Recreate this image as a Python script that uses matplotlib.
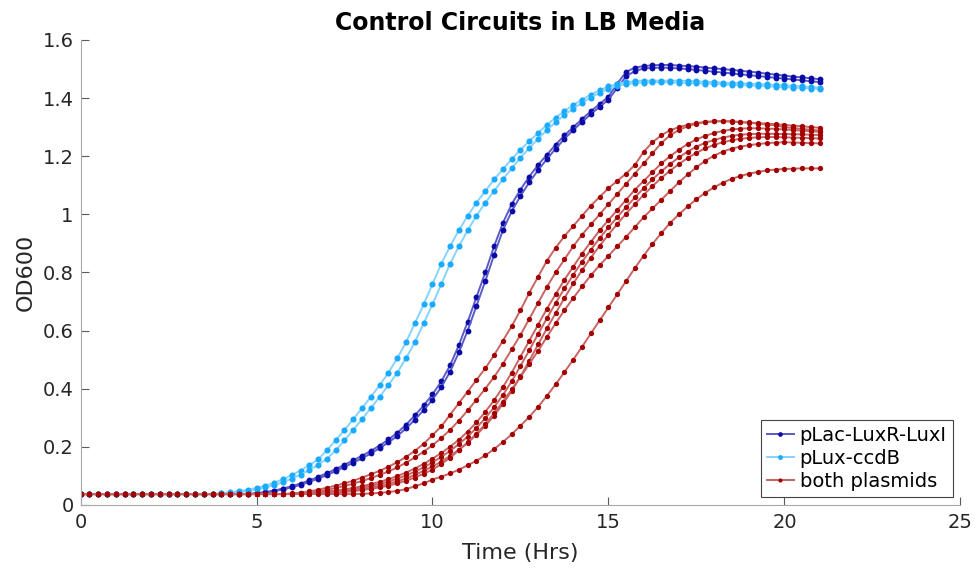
import numpy as np
import matplotlib
matplotlib.use('Agg')
import matplotlib.pyplot as plt
from matplotlib.ticker import FuncFormatter

plt.rcParams['font.family'] = ['DejaVu Sans']

# sampling times (every 15 min, 0..21 h)
hours = np.arange(85) * 0.25

# pLac-LuxR-LuxI replicates (dark blue)
plac_a = [
    0.037, 0.037, 0.037, 0.037,
    0.037, 0.037, 0.037, 0.037,
    0.037, 0.037, 0.037, 0.037,
    0.037, 0.037, 0.037, 0.037,
    0.037, 0.037, 0.037, 0.037,
    0.040, 0.044, 0.049, 0.056,
    0.064, 0.073, 0.084, 0.096,
    0.109, 0.123, 0.138, 0.153,
    0.169, 0.186, 0.204, 0.225,
    0.248, 0.276, 0.308, 0.342,
    0.380, 0.425, 0.480, 0.550,
    0.630, 0.715, 0.800, 0.890,
    0.970, 1.035, 1.085, 1.130,
    1.170, 1.205, 1.240, 1.272,
    1.300, 1.328, 1.355, 1.380,
    1.405, 1.450, 1.490, 1.505,
    1.510, 1.513, 1.514, 1.514,
    1.512, 1.510, 1.508, 1.505,
    1.502, 1.500, 1.497, 1.494,
    1.491, 1.488, 1.484, 1.481,
    1.477, 1.474, 1.471, 1.468,
    1.465]
plac_b = [
    0.037, 0.037, 0.037, 0.037,
    0.037, 0.037, 0.037, 0.037,
    0.037, 0.037, 0.037, 0.037,
    0.037, 0.037, 0.037, 0.037,
    0.037, 0.037, 0.037, 0.037,
    0.039, 0.042, 0.047, 0.053,
    0.060, 0.069, 0.079, 0.090,
    0.102, 0.116, 0.130, 0.145,
    0.160, 0.177, 0.195, 0.215,
    0.237, 0.263, 0.293, 0.326,
    0.362, 0.405, 0.458, 0.525,
    0.600, 0.685, 0.770, 0.860,
    0.945, 1.010, 1.063, 1.110,
    1.152, 1.190, 1.226, 1.260,
    1.290, 1.318, 1.345, 1.370,
    1.395, 1.435, 1.475, 1.493,
    1.502, 1.504, 1.505, 1.504,
    1.502, 1.500, 1.497, 1.494,
    1.491, 1.488, 1.485, 1.482,
    1.479, 1.476, 1.473, 1.470,
    1.467, 1.464, 1.461, 1.458,
    1.455]

# pLux-ccdB replicates (light blue)
plux_a = [
    0.037, 0.037, 0.037, 0.037,
    0.037, 0.037, 0.037, 0.037,
    0.037, 0.037, 0.037, 0.037,
    0.037, 0.037, 0.037, 0.037,
    0.040, 0.043, 0.047, 0.052,
    0.058, 0.066, 0.076, 0.088,
    0.102, 0.118, 0.136, 0.156,
    0.188, 0.222, 0.258, 0.295,
    0.333, 0.372, 0.412, 0.455,
    0.505, 0.560, 0.625, 0.690,
    0.760, 0.830, 0.890, 0.945,
    0.995, 1.040, 1.080, 1.120,
    1.155, 1.190, 1.222, 1.252,
    1.280, 1.308, 1.333, 1.356,
    1.376, 1.395, 1.412, 1.427,
    1.440, 1.449, 1.455, 1.458,
    1.460, 1.460, 1.460, 1.460,
    1.460, 1.459, 1.458, 1.456,
    1.455, 1.453, 1.452, 1.451,
    1.450, 1.448, 1.447, 1.445,
    1.444, 1.442, 1.440, 1.438,
    1.436]
plux_b = [
    0.037, 0.037, 0.037, 0.037,
    0.037, 0.037, 0.037, 0.037,
    0.037, 0.037, 0.037, 0.037,
    0.037, 0.037, 0.037, 0.037,
    0.039, 0.041, 0.044, 0.048,
    0.053, 0.060, 0.068, 0.078,
    0.090, 0.104, 0.120, 0.138,
    0.158, 0.188, 0.222, 0.258,
    0.295, 0.333, 0.372, 0.412,
    0.455, 0.505, 0.560, 0.625,
    0.690, 0.760, 0.830, 0.890,
    0.945, 0.995, 1.040, 1.080,
    1.120, 1.158, 1.195, 1.228,
    1.260, 1.290, 1.317, 1.342,
    1.364, 1.384, 1.402, 1.418,
    1.432, 1.442, 1.448, 1.452,
    1.453, 1.454, 1.454, 1.454,
    1.453, 1.452, 1.451, 1.450,
    1.449, 1.447, 1.446, 1.445,
    1.444, 1.442, 1.441, 1.439,
    1.438, 1.436, 1.435, 1.433,
    1.432]

# both plasmids replicates (dark red)
both_a = [
    0.037, 0.037, 0.037, 0.037,
    0.037, 0.037, 0.037, 0.037,
    0.037, 0.037, 0.037, 0.037,
    0.037, 0.037, 0.037, 0.037,
    0.037, 0.037, 0.037, 0.037,
    0.037, 0.037, 0.037, 0.037,
    0.039, 0.042, 0.046, 0.052,
    0.059, 0.066, 0.074, 0.083,
    0.094, 0.105, 0.117, 0.131,
    0.147, 0.165, 0.186, 0.210,
    0.240, 0.270, 0.310, 0.350,
    0.390, 0.430, 0.470, 0.515,
    0.565, 0.615, 0.670, 0.730,
    0.785, 0.840, 0.885, 0.925,
    0.960, 0.995, 1.030, 1.060,
    1.090, 1.115, 1.140, 1.170,
    1.215, 1.248, 1.272, 1.289,
    1.300, 1.308, 1.314, 1.318,
    1.320, 1.320, 1.319, 1.317,
    1.315, 1.312, 1.309, 1.306,
    1.300, 1.297, 1.294, 1.291,
    1.288]
both_b = [
    0.037, 0.037, 0.037, 0.037,
    0.037, 0.037, 0.037, 0.037,
    0.037, 0.037, 0.037, 0.037,
    0.037, 0.037, 0.037, 0.037,
    0.037, 0.037, 0.037, 0.037,
    0.037, 0.037, 0.037, 0.037,
    0.038, 0.040, 0.043, 0.047,
    0.052, 0.058, 0.065, 0.073,
    0.082, 0.092, 0.103, 0.115,
    0.129, 0.145, 0.163, 0.183,
    0.205, 0.230, 0.258, 0.290,
    0.325, 0.362, 0.400, 0.440,
    0.485, 0.535, 0.585, 0.640,
    0.695, 0.750, 0.800, 0.845,
    0.890, 0.930, 0.965, 1.000,
    1.035, 1.070, 1.105, 1.140,
    1.175, 1.210, 1.245, 1.272,
    1.290, 1.303, 1.312, 1.317,
    1.320, 1.321, 1.320, 1.318,
    1.316, 1.314, 1.312, 1.310,
    1.308, 1.305, 1.303, 1.300,
    1.298]
both_c = [
    0.037, 0.037, 0.037, 0.037,
    0.037, 0.037, 0.037, 0.037,
    0.037, 0.037, 0.037, 0.037,
    0.037, 0.037, 0.037, 0.037,
    0.037, 0.037, 0.037, 0.037,
    0.037, 0.037, 0.037, 0.037,
    0.038, 0.039, 0.041, 0.043,
    0.046, 0.049, 0.053, 0.058,
    0.064, 0.071, 0.079, 0.088,
    0.099, 0.111, 0.125, 0.141,
    0.159, 0.178, 0.200, 0.224,
    0.252, 0.284, 0.320, 0.360,
    0.405, 0.455, 0.510, 0.565,
    0.620, 0.675, 0.725, 0.775,
    0.820, 0.865, 0.905, 0.945,
    0.980, 1.015, 1.050, 1.085,
    1.115, 1.145, 1.175, 1.200,
    1.222, 1.242, 1.258, 1.270,
    1.280, 1.287, 1.292, 1.295,
    1.296, 1.296, 1.295, 1.294,
    1.292, 1.290, 1.288, 1.286,
    1.284]
both_d = [
    0.037, 0.037, 0.037, 0.037,
    0.037, 0.037, 0.037, 0.037,
    0.037, 0.037, 0.037, 0.037,
    0.037, 0.037, 0.037, 0.037,
    0.037, 0.037, 0.037, 0.037,
    0.037, 0.037, 0.037, 0.037,
    0.037, 0.038, 0.039, 0.041,
    0.043, 0.046, 0.050, 0.054,
    0.059, 0.065, 0.072, 0.080,
    0.090, 0.101, 0.114, 0.129,
    0.146, 0.165, 0.186, 0.209,
    0.235, 0.265, 0.298, 0.336,
    0.378, 0.425, 0.478, 0.532,
    0.588, 0.642, 0.695, 0.745,
    0.792, 0.837, 0.878, 0.918,
    0.955, 0.990, 1.025, 1.058,
    1.090, 1.120, 1.148, 1.173,
    1.196, 1.216, 1.233, 1.246,
    1.256, 1.264, 1.270, 1.274,
    1.276, 1.277, 1.277, 1.277,
    1.276, 1.276, 1.275, 1.274,
    1.273]
both_e = [
    0.037, 0.037, 0.037, 0.037,
    0.037, 0.037, 0.037, 0.037,
    0.037, 0.037, 0.037, 0.037,
    0.037, 0.037, 0.037, 0.037,
    0.037, 0.037, 0.037, 0.037,
    0.037, 0.037, 0.037, 0.037,
    0.037, 0.037, 0.038, 0.039,
    0.041, 0.043, 0.046, 0.050,
    0.054, 0.059, 0.065, 0.072,
    0.081, 0.091, 0.103, 0.117,
    0.132, 0.149, 0.168, 0.190,
    0.214, 0.241, 0.272, 0.307,
    0.347, 0.392, 0.442, 0.496,
    0.552, 0.607, 0.660, 0.712,
    0.762, 0.808, 0.851, 0.892,
    0.930, 0.967, 1.002, 1.035,
    1.067, 1.097, 1.125, 1.150,
    1.173, 1.194, 1.212, 1.227,
    1.239, 1.248, 1.255, 1.260,
    1.263, 1.265, 1.266, 1.266,
    1.265, 1.264, 1.263, 1.262,
    1.261]
both_f = [
    0.037, 0.037, 0.037, 0.037,
    0.037, 0.037, 0.037, 0.037,
    0.037, 0.037, 0.037, 0.037,
    0.037, 0.037, 0.037, 0.037,
    0.037, 0.037, 0.037, 0.037,
    0.037, 0.037, 0.037, 0.037,
    0.037, 0.037, 0.038, 0.039,
    0.040, 0.042, 0.044, 0.047,
    0.051, 0.055, 0.060, 0.066,
    0.074, 0.083, 0.094, 0.107,
    0.121, 0.140, 0.162, 0.188,
    0.215, 0.245, 0.278, 0.315,
    0.355, 0.397, 0.440, 0.485,
    0.530, 0.578, 0.625, 0.670,
    0.712, 0.752, 0.790, 0.825,
    0.857, 0.890, 0.922, 0.956,
    0.990, 1.020, 1.050, 1.080,
    1.110, 1.137, 1.162, 1.184,
    1.202, 1.216, 1.226, 1.233,
    1.238, 1.242, 1.245, 1.247,
    1.248, 1.247, 1.246, 1.245,
    1.244]
both_g = [
    0.037, 0.037, 0.037, 0.037,
    0.037, 0.037, 0.037, 0.037,
    0.037, 0.037, 0.037, 0.037,
    0.037, 0.037, 0.037, 0.037,
    0.037, 0.037, 0.037, 0.037,
    0.037, 0.037, 0.037, 0.037,
    0.037, 0.037, 0.037, 0.037,
    0.037, 0.037, 0.037, 0.037,
    0.038, 0.039, 0.041, 0.044,
    0.048, 0.054, 0.064, 0.074,
    0.087, 0.097, 0.108, 0.121,
    0.136, 0.152, 0.170, 0.192,
    0.216, 0.243, 0.272, 0.303,
    0.337, 0.375, 0.415, 0.457,
    0.500, 0.544, 0.590, 0.635,
    0.680, 0.725, 0.770, 0.815,
    0.858, 0.898, 0.935, 0.970,
    1.000, 1.027, 1.052, 1.074,
    1.093, 1.109, 1.122, 1.132,
    1.140, 1.146, 1.151, 1.154,
    1.156, 1.157, 1.158, 1.158,
    1.158]

# label, replicates, marker colour, line colour, marker size
groups = [
    ('pLac-LuxR-LuxI', [plac_a, plac_b], '#0a0aa6', '#5a5ac8', 4.2),
    ('pLux-ccdB', [plux_a, plux_b], '#1aabff', '#86d3ff', 4.4),
    ('both plasmids', [both_a, both_b, both_c, both_d, both_e, both_f, both_g],
     '#a30000', '#c86464', 3.8),
]

fig = plt.figure(figsize=(9.77, 5.77), dpi=100)
ax = fig.add_axes([0.0824, 0.1251, 0.9007, 0.8056])

for label, curves, mcol, lcol, ms in groups:
    for i, vals in enumerate(curves):
        ax.plot(hours, vals, color=lcol, lw=1.4, marker='o', ms=ms,
                mfc=mcol, mec=mcol, mew=0,
                label=label if i == 0 else None)

ax.set_xlim(0, 25)
ax.set_ylim(0, 1.6)
ax.set_xticks([0, 5, 10, 15, 20, 25])
ax.set_yticks([0, 0.2, 0.4, 0.6, 0.8, 1.0, 1.2, 1.4, 1.6])
ax.yaxis.set_major_formatter(FuncFormatter(lambda v, p: '%g' % v))

for side in ['top', 'right']:
    ax.spines[side].set_visible(False)
for side in ['left', 'bottom']:
    ax.spines[side].set_color('#a8a8a8')
    ax.spines[side].set_linewidth(0.8)

ax.tick_params(direction='in', length=5.5, width=0.8, color='#5a5a5a',
               labelsize=14, labelcolor='#262626')
ax.tick_params(axis='x', pad=6)
ax.tick_params(axis='y', pad=5)

ax.set_xlabel('Time (Hrs)', fontsize=16, color='#262626', labelpad=8)
ax.set_ylabel('OD600', fontsize=16, color='#262626', labelpad=5)
ax.set_title('Control Circuits in LB Media', fontsize=17, fontweight='bold',
             color='black', pad=7)

leg = ax.legend(loc='lower right', bbox_to_anchor=(0.991, 0.017),
                borderaxespad=0, fontsize=14, numpoints=1, handlelength=1.4,
                handletextpad=0.3, labelspacing=0.2, borderpad=0.3,
                markerscale=0.8, fancybox=False, framealpha=1)
leg.get_frame().set_edgecolor('#444444')
leg.get_frame().set_linewidth(0.8)

fig.savefig('out.png', dpi=100)
